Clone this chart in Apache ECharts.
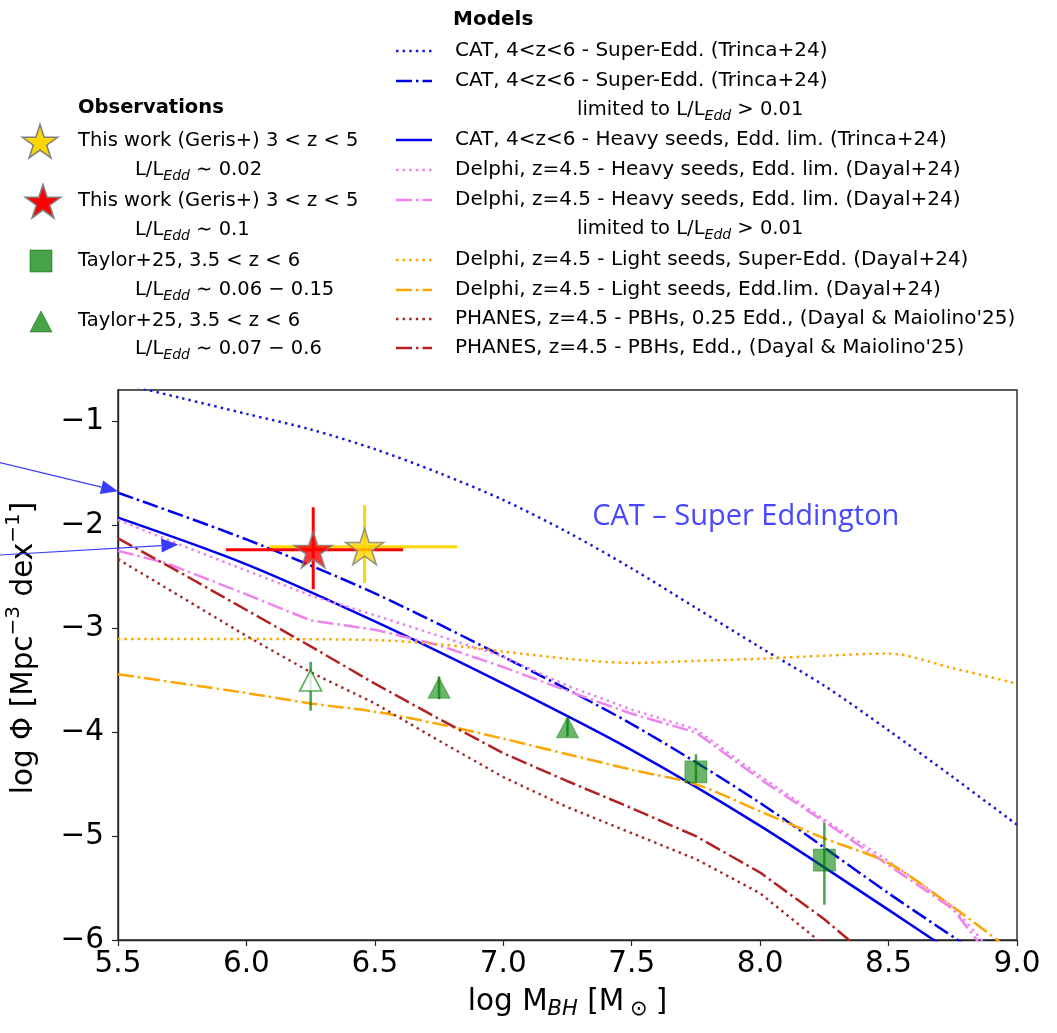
<!DOCTYPE html>
<html>
<head>
<meta charset="utf-8">
<title>BH mass function</title>
<script src="https://cdn.jsdelivr.net/npm/echarts@6/dist/echarts.min.js"></script>
<style>
  html, body { margin: 0; padding: 0; background: #fff; }
  #main { width: 1057px; height: 1033px; }
</style>
</head>
<body>
<div id="main"></div>
<script>

// CAT, 4<z<6 - Super-Edd.
var catSuperM   = [5.5, 5.75, 6.0, 6.25, 6.5, 6.75, 7.0, 7.25, 7.5, 7.75, 8.0, 8.25, 8.5, 8.75, 9.0];
var catSuperPhi = [-0.63, -0.78, -0.93, -1.08, -1.27, -1.50, -1.76, -2.07, -2.42, -2.80, -3.18, -3.55, -3.98, -4.43, -4.89];
// CAT super-Edd. limited to L/LEdd > 0.01
var catLimM   = [5.5, 6.0, 6.5, 7.0, 7.5, 8.0, 8.5, 8.8];
var catLimPhi = [-1.69, -2.14, -2.66, -3.27, -3.92, -4.68, -5.55, -6.05];
// CAT heavy seeds, Edd. lim.
var catHeavyM   = [5.5, 6.0, 6.5, 7.0, 7.5, 8.0, 8.5, 8.7];
var catHeavyPhi = [-1.93, -2.38, -2.93, -3.53, -4.17, -4.90, -5.71, -6.04];
// Delphi heavy seeds
var delphiHeavyM   = [5.5, 5.75, 6.0, 6.25, 6.5, 6.75, 7.0, 7.25, 7.5, 7.75, 8.0, 8.25, 8.5, 8.75, 8.87];
var delphiHeavyPhi = [-1.95, -2.20, -2.44, -2.68, -2.87, -3.07, -3.27, -3.55, -3.78, -3.97, -4.42, -4.84, -5.24, -5.68, -6.02];
var delphiLimM   = [5.5, 5.69, 6.0, 6.25, 6.5, 6.75, 7.0, 7.25, 7.5, 7.75, 8.0, 8.25, 8.5, 8.75, 8.85];
var delphiLimPhi = [-2.25, -2.37, -2.67, -2.92, -3.01, -3.16, -3.37, -3.60, -3.82, -4.00, -4.45, -4.86, -5.28, -5.70, -6.02];
// Delphi light seeds
var lightSuperM   = [5.5, 6.0, 6.5, 6.75, 7.0, 7.25, 7.5, 7.75, 8.0, 8.25, 8.5, 8.75, 9.0];
var lightSuperPhi = [-3.10, -3.10, -3.11, -3.15, -3.22, -3.29, -3.33, -3.31, -3.29, -3.26, -3.24, -3.38, -3.53];
var lightEddM   = [5.5, 6.0, 6.25, 6.5, 6.75, 7.0, 7.25, 7.5, 7.75, 8.0, 8.25, 8.5, 8.75, 8.95];
var lightEddPhi = [-3.44, -3.62, -3.72, -3.80, -3.92, -4.06, -4.21, -4.36, -4.50, -4.76, -5.02, -5.26, -5.68, -6.05];
// PHANES PBHs
var pbhQuarterM   = [5.5, 5.75, 6.0, 6.25, 6.5, 6.75, 7.0, 7.25, 7.5, 7.75, 8.0, 8.25];
var pbhQuarterPhi = [-2.33, -2.70, -3.07, -3.42, -3.72, -4.08, -4.43, -4.72, -4.97, -5.22, -5.55, -6.05];
var pbhEddM   = [5.5, 5.75, 6.0, 6.25, 6.5, 6.75, 7.0, 7.25, 7.5, 7.75, 8.0, 8.25, 8.36];
var pbhEddPhi = [-2.13, -2.47, -2.82, -3.17, -3.53, -3.87, -4.20, -4.47, -4.73, -5.00, -5.35, -5.80, -6.03];

// observations: [yellow (L/LEdd~0.02), red (L/LEdd~0.1)]
var starM     = [6.46, 6.26];
var starPhi   = [-2.21, -2.24];
var starMLo   = [6.09, 5.92];
var starMHi   = [6.82, 6.61];
var starPhiLo = [-2.56, -2.62];
var starPhiHi = [-1.81, -1.83];
// Taylor+25 squares
var sqM     = [7.75, 8.25];
var sqPhi   = [-4.38, -5.23];
var sqPhiLo = [-4.48, -5.66];
var sqPhiHi = [-4.21, -4.87];
// Taylor+25 triangles (first one drawn open)
var triM     = [6.25, 6.75, 7.25];
var triPhi   = [-3.50, -3.57, -3.95];
var triPhiLo = [-3.79, -3.68, -4.04];
var triPhiHi = [-3.32, -3.46, -3.86];

var xTicks = [5.5, 6.0, 6.5, 7.0, 7.5, 8.0, 8.5, 9.0];
var yTicks = [-6, -5, -4, -3, -2, -1];

var obsLabels = ['This work (Geris+) 3 < z < 5', 'This work (Geris+) 3 < z < 5',
                 'Taylor+25, 3.5 < z < 6', 'Taylor+25, 3.5 < z < 6'];
var obsSubs = ['0.02', '0.1', '0.06 \u2212 0.15', '0.07 \u2212 0.6'];
var modelLabels = [
  'CAT, 4<z<6 - Super-Edd. (Trinca+24)',
  'CAT, 4<z<6 - Super-Edd. (Trinca+24)',
  'CAT, 4<z<6 - Heavy seeds, Edd. lim. (Trinca+24)',
  'Delphi, z=4.5 - Heavy seeds, Edd. lim. (Dayal+24)',
  'Delphi, z=4.5 - Heavy seeds, Edd. lim. (Dayal+24)',
  'Delphi, z=4.5 - Light seeds, Super-Edd. (Dayal+24)',
  'Delphi, z=4.5 - Light seeds, Edd.lim. (Dayal+24)',
  "PHANES, z=4.5 - PBHs, 0.25 Edd., (Dayal & Maiolino'25)",
  "PHANES, z=4.5 - PBHs, Edd., (Dayal & Maiolino'25)"
];

var FONT = 'DejaVu Sans';
var DOT = [2.5, 4.1];
var DASHDOT = [16, 4, 2.5, 4];
var GREEN = 'rgba(0,128,0,0.72)';
var GOLD = '#ffd700';
var RED = '#ff0000';
var AX = 29.5; // axis font size

function pairs(xs, ys) {
  return xs.map(function (x, i) { return [x, ys[i]]; });
}

var models = [
  { m: catSuperM, p: catSuperPhi, color: '#1a1ad2', dash: DOT, smooth: 0.3 },
  { m: catLimM, p: catLimPhi, color: '#0000ee', dash: DASHDOT, smooth: 0.3 },
  { m: catHeavyM, p: catHeavyPhi, color: '#0000ee', dash: 'solid', smooth: 0.3 },
  { m: delphiHeavyM, p: delphiHeavyPhi, color: '#ee82ee', dash: DOT, smooth: false },
  { m: delphiLimM, p: delphiLimPhi, color: '#ee82ee', dash: DASHDOT, smooth: false },
  { m: lightSuperM, p: lightSuperPhi, color: '#ffa500', dash: DOT, smooth: 0.3 },
  { m: lightEddM, p: lightEddPhi, color: '#ffa500', dash: DASHDOT, smooth: 0.3 },
  { m: pbhQuarterM, p: pbhQuarterPhi, color: '#a52a2a', dash: DOT, smooth: false },
  { m: pbhEddM, p: pbhEddPhi, color: '#b22222', dash: DASHDOT, smooth: false }
];
// rows of the legend which carry a "limited to" second line
var limitedRows = [1, 4];

// matplotlib '*' marker
function starPoints(cx, cy, R) {
  var pts = [];
  for (var i = 0; i < 10; i++) {
    var r = i % 2 ? R * 0.381966 : R;
    var a = -Math.PI / 2 + i * Math.PI / 5;
    pts.push([cx + r * Math.cos(a), cy + r * Math.sin(a)]);
  }
  return pts;
}
var starSymbol = 'path://' + starPoints(0, 0, 50).map(function (p, i) {
  return (i ? 'L' : 'M') + p[0].toFixed(2) + ' ' + p[1].toFixed(2);
}).join(' ') + ' Z';

function errorBars(name, color, width, rows) {
  return {
    type: 'custom',
    name: name,
    silent: true,
    z: 5,
    encode: { x: [0, 2, 3], y: [1, 4, 5] },
    renderItem: function (params, api) {
      var p = api.coord([api.value(0), api.value(1)]);
      var lo = api.coord([api.value(2), api.value(4)]);
      var hi = api.coord([api.value(3), api.value(5)]);
      var kids = [{
        type: 'line',
        shape: { x1: p[0], y1: lo[1], x2: p[0], y2: hi[1] },
        style: { stroke: color, lineWidth: width }
      }];
      if (api.value(2) !== api.value(3)) {
        kids.push({
          type: 'line',
          shape: { x1: lo[0], y1: p[1], x2: hi[0], y2: p[1] },
          style: { stroke: color, lineWidth: width }
        });
      }
      return { type: 'group', children: kids };
    },
    data: rows
  };
}

var series = models.map(function (md, i) {
  return {
    type: 'line',
    name: modelLabels[i],
    data: pairs(md.m, md.p),
    showSymbol: false,
    symbol: 'none',
    smooth: md.smooth,
    clip: true,
    silent: true,
    z: 2,
    lineStyle: { color: md.color, width: 2.5, type: md.dash, cap: 'butt' },
    itemStyle: { color: md.color }
  };
});

// Taylor+25
series.push(errorBars('taylor-err', GREEN, 2.5,
  sqM.map(function (m, i) { return [m, sqPhi[i], m, m, sqPhiLo[i], sqPhiHi[i]]; })
    .concat(triM.map(function (m, i) { return [m, triPhi[i], m, m, triPhiLo[i], triPhiHi[i]]; }))));
series.push({
  type: 'scatter', name: obsLabels[2], silent: true, z: 6,
  symbol: 'rect', symbolSize: 22,
  itemStyle: { color: GREEN, borderColor: 'rgba(0,100,0,0.5)', borderWidth: 1 },
  data: pairs(sqM, sqPhi)
});
series.push({
  type: 'scatter', name: obsLabels[3], silent: true, z: 6,
  symbol: 'triangle', symbolSize: [22, 21],
  data: pairs(triM, triPhi).map(function (d, i) {
    return i === 0
      ? { value: d, itemStyle: { color: '#ffffff', borderColor: 'rgba(0,128,0,0.8)', borderWidth: 1.6 } }
      : { value: d, itemStyle: { color: GREEN, borderColor: 'rgba(0,100,0,0.5)', borderWidth: 1 } };
  })
});

// This work (yellow then red)
[GOLD, RED].forEach(function (c, i) {
  series.push(errorBars('geris-err-' + i, c, 3,
    [[starM[i], starPhi[i], starMLo[i], starMHi[i], starPhiLo[i], starPhiHi[i]]]));
  series.push({
    type: 'scatter', name: obsLabels[i], silent: true, z: 7,
    symbol: starSymbol, symbolSize: [38, 36],
    itemStyle: { color: c, borderColor: '#808080', borderWidth: 1.6 },
    data: [[starM[i], starPhi[i]]]
  });
});

var option = {
  animation: false,
  backgroundColor: '#ffffff',
  grid: {
    left: 118, top: 390, right: 40, bottom: 93,
    outerBoundsMode: 'none',
    containLabel: false,
    show: true, borderColor: '#262626', borderWidth: 1.4, backgroundColor: 'transparent'
  },
  xAxis: {
    type: 'value',
    min: xTicks[0], max: xTicks[xTicks.length - 1], interval: 0.5,
    splitLine: { show: false },
    axisLine: { show: true, onZero: false, lineStyle: { color: '#262626', width: 1.4 } },
    axisTick: { show: true, inside: false, length: 6, lineStyle: { color: '#262626', width: 1.2 } },
    axisLabel: {
      margin: 9, color: '#000', fontFamily: FONT, fontSize: AX,
      formatter: function (v) { return v.toFixed(1); }
    },
    name: 'log M{sub|BH} [M{o|\u2299}]',
    nameLocation: 'middle',
    nameGap: 44,
    nameTextStyle: {
      color: '#000', fontFamily: FONT, fontSize: AX, lineHeight: 36,
      rich: {
        sub: { fontFamily: FONT, fontSize: 21, fontStyle: 'italic', lineHeight: 21, verticalAlign: 'bottom', color: '#000' },
        o: { fontFamily: FONT, fontSize: 21, lineHeight: 21, verticalAlign: 'bottom', color: '#000', padding: [0, 8, 0, 6] }
      }
    }
  },
  yAxis: {
    type: 'value',
    min: yTicks[0], max: -0.7, interval: 1,
    splitLine: { show: false },
    axisLine: { show: true, onZero: false, lineStyle: { color: '#262626', width: 1.4 } },
    axisTick: { show: true, inside: false, length: 6, lineStyle: { color: '#262626', width: 1.2 } },
    axisLabel: {
      margin: 14, color: '#000', fontFamily: FONT, fontSize: AX,
      showMaxLabel: false,
      formatter: function (v) {
        return yTicks.indexOf(v) < 0 ? '' : (v < 0 ? '\u2212' : '') + Math.abs(v);
      }
    },
    name: 'log \u03a6 [Mpc{sup|\u22123} dex{sup|\u22121}]',
    nameLocation: 'middle',
    nameRotate: 90,
    nameGap: 74,
    nameTextStyle: {
      color: '#000', fontFamily: FONT, fontSize: AX, lineHeight: 40,
      padding: [0, 0, 0, 34],
      rich: {
        sup: { fontFamily: FONT, fontSize: 20, lineHeight: 20, verticalAlign: 'top', color: '#000' }
      }
    }
  },
  series: series
};

var chart = echarts.init(document.getElementById('main'));
chart.setOption(option);

// ---------- legends and annotations ----------
var g = [];
var LF = 20;
var subRich = {
  e: { fontFamily: FONT, fontSize: 14, fontStyle: 'italic', lineHeight: 14, verticalAlign: 'bottom', fill: '#000' }
};
function txt(x, y, text, opt) {
  opt = opt || {};
  return {
    type: 'text', silent: true, z: 10,
    style: {
      x: x, y: y, text: text, fill: '#000',
      fontFamily: FONT, fontSize: opt.size || LF, fontWeight: opt.bold ? 'bold' : 'normal',
      align: 'left', verticalAlign: 'middle', lineHeight: 26, rich: subRich
    }
  };
}

// Observations legend
g.push(txt(78, 108, 'Observations', { bold: true, size: 19.5 }));
var obsRowY = [141, 201, 261, 321];
var obsSubY = [170, 230, 290, 349];
obsRowY.forEach(function (y, i) {
  g.push(txt(78, y, obsLabels[i], { size: 19.5 }));
  g.push(txt(135, obsSubY[i], 'L/L{e|Edd} \u223c ' + obsSubs[i], { size: 19.5 }));
});
g.push({ type: 'polygon', silent: true, z: 10, shape: { points: starPoints(40, 143, 18.5) },
  style: { fill: GOLD, stroke: '#808080', lineWidth: 1.6 } });
g.push({ type: 'polygon', silent: true, z: 10, shape: { points: starPoints(43, 203, 18.5) },
  style: { fill: RED, stroke: '#808080', lineWidth: 1.6 } });
g.push({ type: 'rect', silent: true, z: 10, shape: { x: 30, y: 250, width: 22, height: 22 },
  style: { fill: GREEN, stroke: 'rgba(0,100,0,0.5)', lineWidth: 1 } });
g.push({ type: 'polygon', silent: true, z: 10, shape: { points: [[41, 311], [30, 332], [52, 332]] },
  style: { fill: GREEN, stroke: 'rgba(0,100,0,0.5)', lineWidth: 1 } });

// Models legend
g.push(txt(453, 20, 'Models', { bold: true }));
var modelRowY = [51, 81, 140, 170, 200, 260, 290, 319, 348];
var limitedY = [110, 229];
models.forEach(function (md, i) {
  var y = modelRowY[i];
  g.push({
    type: 'line', silent: true, z: 10,
    shape: { x1: 396, y1: y, x2: 432, y2: y },
    style: { stroke: md.color, lineWidth: 2.5, lineDash: md.dash === 'solid' ? null : md.dash, lineCap: 'butt' }
  });
  g.push(txt(455, y, modelLabels[i]));
});
limitedRows.forEach(function (r, k) {
  g.push(txt(577, limitedY[k], 'limited to L/L{e|Edd} > 0.01', { size: 19.5 }));
});

// blue arrows pointing at the limited CAT curve and the Delphi curves
var arrowFrom = [[5.04, -1.40], [5.04, -2.29]];
var arrowTo = [[5.5, -1.675], [5.735, -2.19]];
arrowFrom.forEach(function (f, i) {
  var a = chart.convertToPixel({ gridIndex: 0 }, f);
  var b = chart.convertToPixel({ gridIndex: 0 }, arrowTo[i]);
  var dx = b[0] - a[0], dy = b[1] - a[1];
  var len = Math.sqrt(dx * dx + dy * dy);
  var ux = dx / len, uy = dy / len;
  var hl = 17, hw = 7;
  var bx = b[0] - ux * hl, by = b[1] - uy * hl;
  g.push({ type: 'line', silent: true, z: 11,
    shape: { x1: a[0], y1: a[1], x2: bx, y2: by },
    style: { stroke: '#3b3bff', lineWidth: 1.2 } });
  g.push({ type: 'polygon', silent: true, z: 11,
    shape: { points: [[b[0], b[1]], [bx - uy * hw, by + ux * hw], [bx + uy * hw, by - ux * hw]] },
    style: { fill: '#3b3bff' } });
});

// in-plot annotation
var labelPos = chart.convertToPixel({ gridIndex: 0 }, [7.944, -1.92]);
g.push({
  type: 'text', silent: true, z: 11,
  style: {
    x: labelPos[0], y: labelPos[1], text: 'CAT \u2013 Super Eddington',
    fill: '#4747ff', fontFamily: 'Open Sans', fontSize: 29,
    align: 'center', verticalAlign: 'middle'
  }
});

chart.setOption({ graphic: { elements: g } });
</script>
</body>
</html>
